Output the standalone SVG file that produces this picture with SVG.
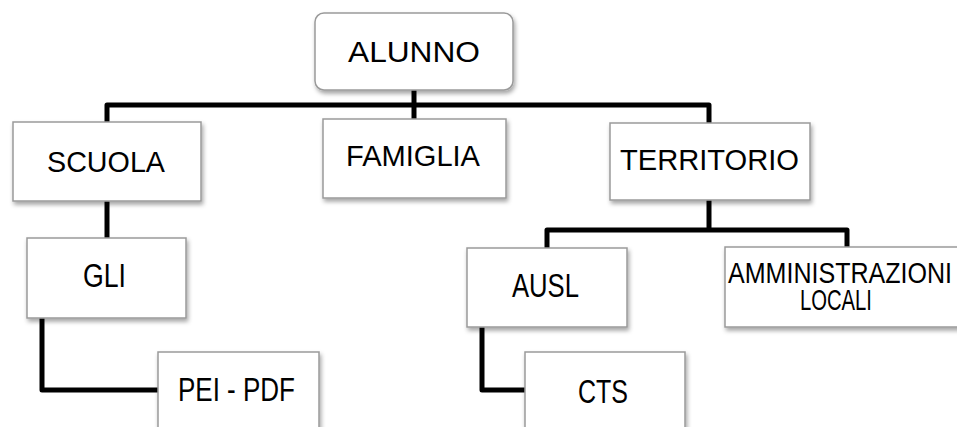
<svg xmlns="http://www.w3.org/2000/svg" width="957" height="427" viewBox="0 0 957 427">
<style>
.box{fill:#fff;stroke:#9a9a9a;stroke-width:1.5;filter:url(#sh)}
.t{font-family:"Liberation Sans",Arial,sans-serif;fill:#000;font-size:30px}
.s{font-size:33px}
.c{fill:none;stroke:#000;stroke-width:5;stroke-linejoin:round}
</style>
<defs>
<filter id="sh" x="-10%" y="-10%" width="130%" height="140%">
<feDropShadow dx="1.5" dy="3" stdDeviation="2" flood-color="#000" flood-opacity="0.35"/>
</filter>
</defs>
<rect width="957" height="427" fill="#fff"/>
<g id="connectors">
<path class="c" d="M107,122 V105 H709 V123"/>
<path class="c" d="M414,90 V119"/>
<path class="c" d="M107,201 V238"/>
<path class="c" d="M42,318 V390 H158"/>
<path class="c" d="M709,200 V230"/>
<path class="c" d="M547,248 V230 H847 V247"/>
<path class="c" d="M482,327 V390 H525"/>
</g>
<g id="alunno">
<rect class="box" x="315" y="13" width="198" height="77" rx="9"/>
<text class="t" x="348" y="62" textLength="132" lengthAdjust="spacingAndGlyphs">ALUNNO</text>
</g>
<g id="scuola">
<rect class="box" x="13" y="122" width="188" height="79"/>
<text class="t" x="47" y="172" textLength="118" lengthAdjust="spacingAndGlyphs">SCUOLA</text>
</g>
<g id="famiglia">
<rect class="box" x="323" y="119" width="183" height="79"/>
<text class="t" x="346" y="166" textLength="134" lengthAdjust="spacingAndGlyphs">FAMIGLIA</text>
</g>
<g id="territorio">
<rect class="box" x="610" y="123" width="200" height="77"/>
<text class="t" x="620" y="170" textLength="179" lengthAdjust="spacingAndGlyphs">TERRITORIO</text>
</g>
<g id="gli">
<rect class="box" x="27" y="238" width="159" height="80"/>
<text class="t s" x="83" y="287" textLength="43" lengthAdjust="spacingAndGlyphs">GLI</text>
</g>
<g id="pei-pdf">
<rect class="box" x="158" y="352" width="161" height="80"/>
<text class="t s" x="178" y="401" textLength="117" lengthAdjust="spacingAndGlyphs">PEI - PDF</text>
</g>
<g id="ausl">
<rect class="box" x="467" y="248" width="160" height="79"/>
<text class="t s" x="512" y="297" textLength="67" lengthAdjust="spacingAndGlyphs">AUSL</text>
</g>
<g id="cts">
<rect class="box" x="525" y="352" width="160" height="80"/>
<text class="t s" x="578" y="403" textLength="50" lengthAdjust="spacingAndGlyphs">CTS</text>
</g>
<g id="amministrazioni-locali">
<rect class="box" x="725" y="247" width="240" height="80"/>
<text class="t" x="728" y="283" font-size="29" textLength="224" lengthAdjust="spacingAndGlyphs">AMMINISTRAZIONI</text>
<text class="t" x="800" y="310" font-size="29" textLength="72" lengthAdjust="spacingAndGlyphs">LOCALI</text>
</g>
</svg>
